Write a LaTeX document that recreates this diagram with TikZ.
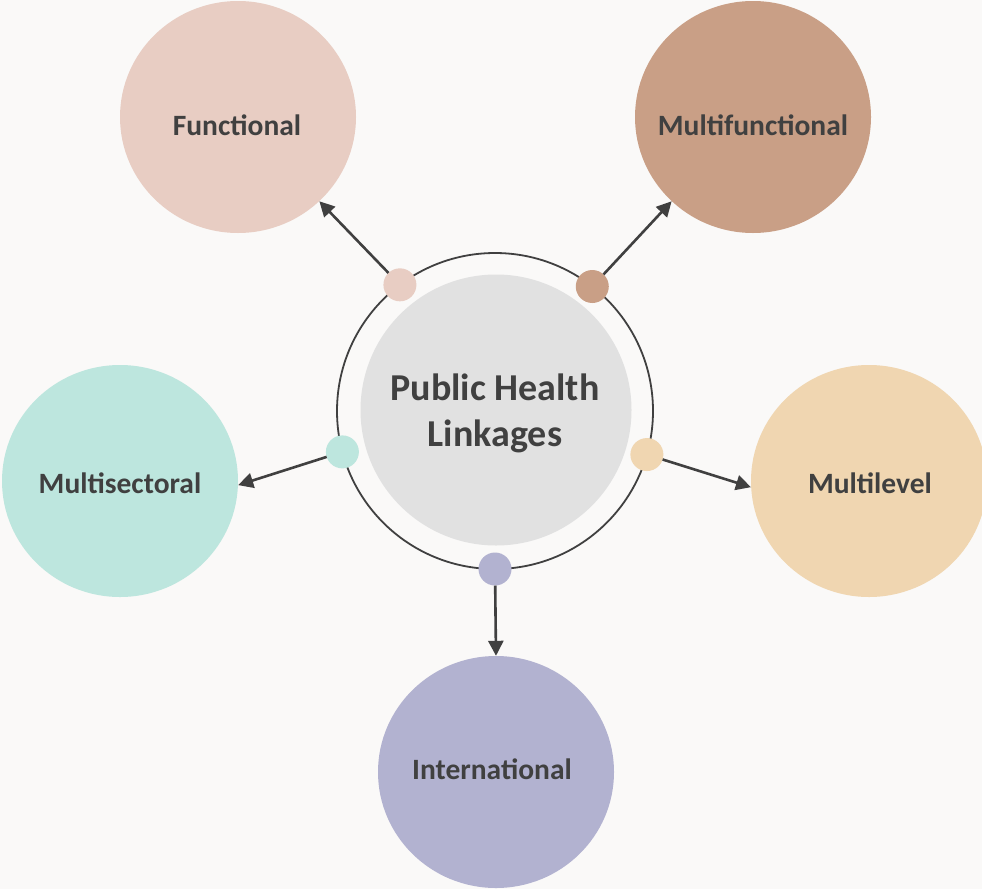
\documentclass[tikz,border=0pt]{standalone}
\usepackage{fontspec}
\setmainfont{Carlito}
\usetikzlibrary{arrows.meta,shapes.geometric}
\definecolor{bg}{HTML}{FAF9F8}
\definecolor{ink}{HTML}{404040}
\definecolor{hubcol}{HTML}{E1E1E1}
\definecolor{funcol}{HTML}{E8CDC3}
\definecolor{mfuncol}{HTML}{C99F86}
\definecolor{msecol}{HTML}{BDE6DE}
\definecolor{mlevcol}{HTML}{F0D6B1}
\definecolor{intcol}{HTML}{B2B2D0}
\tikzstyle{blob}=[ellipse,fill=#1,draw=none,minimum width=236pt,minimum height=232pt,inner sep=0pt]
\tikzstyle{knob}=[circle,fill=#1,minimum size=33pt,inner sep=0pt,outer sep=0pt]
\tikzstyle{lbl}=[font=\bfseries\fontsize{29.5}{32}\selectfont,text=ink]
\newcommand{\spoke}[2]{\draw[-{Triangle[length=15pt,width=15pt]},line width=2.6pt,draw=ink] (#1) -- (#2);}

\begin{document}
\begin{tikzpicture}[x=1pt,y=-1pt]
    \fill[bg] (0,0) rectangle (982,889);
    \useasboundingbox (0,0) rectangle (982,889);
    % hub with its ring
    \node[circle,fill=hubcol,minimum size=271pt,inner sep=0pt] (hub) at (496,410) {};
    \node[circle,draw=ink,line width=1.8pt,minimum size=316pt,inner sep=0pt,outer sep=0pt] (ring) at (495,411) {};
    \node[lbl,font=\bfseries\fontsize{38}{46}\selectfont,align=center] (hubtxt) at (495,413) {Public Health\\Linkages};

    % outer circles
    \node[blob=funcol] (fun) at (238,117) {};
    \node[blob=mfuncol] (mfun) at (753,117) {};
    \node[blob=msecol] (msec) at (120,481) {};
    \node[blob=mlevcol] (mlev) at (869,481) {};
    \node[blob=intcol] (intl) at (496,772) {};
    \node[lbl] (funtxt) at (237,125) {Functional};
    \node[lbl] (mfuntxt) at (753,125) {Multifunctional};
    \node[lbl] (msectxt) at (120,483) {Multisectoral};
    \node[lbl] (mlevtxt) at (870,483) {Multilevel};
    \node[lbl] (intltxt) at (492,769) {International};

    % dots on the ring
    \node[knob=funcol] (fundot) at (ring.127.7) {};
    \node[knob=mfuncol] (mfundot) at (ring.52.3) {};
    \node[knob=msecol] (msecdot) at (ring.195.4) {};
    \node[knob=mlevcol] (mlevdot) at (ring.344.6) {};
    \node[knob=intcol] (intldot) at (ring.270) {};

    \spoke{fundot}{fun.-46}
    \spoke{mfundot}{mfun.226}
    \spoke{msecdot}{msec.-2}
    \spoke{mlevdot}{mlev.183}
    \spoke{intldot}{intl.90}
\end{tikzpicture}
\end{document}
